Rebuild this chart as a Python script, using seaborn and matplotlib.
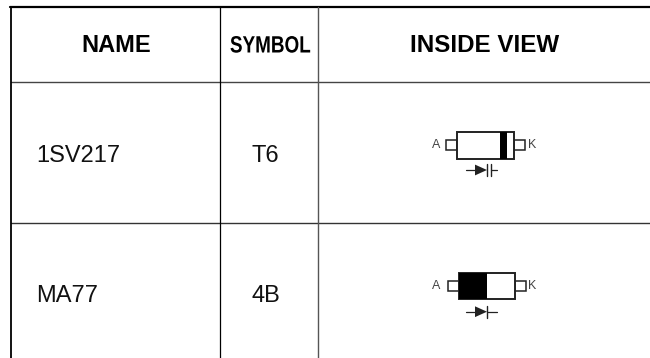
# redraw of the diode marking table
import matplotlib
matplotlib.use('Agg')
import matplotlib.pyplot as plt
from matplotlib.patches import Polygon, Rectangle
from matplotlib.patheffects import AbstractPathEffect
from matplotlib.transforms import Affine2D
import seaborn as sns

# table text
HEADERS = ['NAME', 'SYMBOL', 'INSIDE VIEW']
NAMES = ['1SV217', 'MA77']
SYMBOLS = ['T6', '4B']
TERMINALS = ['A', 'K']

sns.set_theme(style='white')
plt.rcParams['font.family'] = ['Liberation Sans', 'DejaVu Sans']


class Squeeze(AbstractPathEffect):
    '''
    Narrows a text around x_mid (display pixels), no condensed font here
    '''

    def __init__(self, x_mid, factor):
        super().__init__()
        self.x_mid = x_mid
        self.factor = factor

    def draw_path(self, renderer, gc, tpath, affine, rgbFace=None):
        squeeze = Affine2D().translate(-self.x_mid, 0).scale(
            self.factor, 1).translate(self.x_mid, 0)
        renderer.draw_path(gc, tpath, affine + squeeze, rgbFace)


def draw_rules(axis):
    '''
    Table rules, in pixel coordinates of the page
    '''
    axis.plot([10, 650], [7.3, 7.3], color='black', lw=1.6)
    axis.plot([11, 650], [82, 82], color='#444444', lw=1.0)
    axis.plot([11, 650], [222.7, 222.7], color='#333333', lw=1.0)
    axis.plot([11, 11], [7, 358], color='black', lw=1.3)
    axis.plot([219.5, 219.5], [7, 358], color='black', lw=0.9)
    axis.plot([318, 318], [7, 358], color='#555555', lw=1.0)


def draw_diode(axis, left, top, band, sym_x, sym_y, double_bar):
    '''
    Diode package with leads, terminal letters and circuit symbol
    '''
    edge = '#222222'
    body_w, body_h = 56.7, 26.5
    mid = top + body_h / 2
    axis.add_patch(Rectangle((left - 11, mid - 5.2), 11, 10.4, fc='white',
                             ec=edge, lw=1.1))
    axis.add_patch(Rectangle((left + body_w, mid - 5.2), 11, 10.4, fc='white',
                             ec=edge, lw=1.1))
    axis.add_patch(Rectangle((left, top), body_w, body_h, fc='white',
                             ec=edge, lw=1.4, zorder=3))
    axis.add_patch(Rectangle((left + band[0], top), band[1] - band[0],
                             body_h, fc='black', ec='none', zorder=4))
    axis.text(436.6, mid, TERMINALS[0], fontsize=9, color='#444444',
              ha='center', va='center')
    axis.text(532, mid, TERMINALS[1], fontsize=9, color='#444444',
              ha='center', va='center')

    axis.plot([sym_x - 9, sym_x], [sym_y, sym_y], color=edge, lw=0.9)
    axis.add_patch(Polygon([(sym_x, sym_y - 5.4), (sym_x, sym_y + 5.4),
                            (sym_x + 12, sym_y)], fc=edge, ec='none'))
    bar_x = sym_x + 12
    axis.plot([bar_x, bar_x], [sym_y - 6, sym_y + 6], color=edge, lw=1.0)
    if double_bar:
        axis.plot([bar_x + 4.4, bar_x + 4.4], [sym_y - 6, sym_y + 6],
                  color=edge, lw=1.0)
        axis.plot([bar_x + 4.4, bar_x + 10], [sym_y, sym_y], color=edge, lw=0.9)
    else:
        axis.plot([bar_x, bar_x + 10], [sym_y, sym_y], color=edge, lw=0.9)


if __name__ == '__main__':
    fig, ax = plt.subplots(figsize=(6.5, 3.58), dpi=100)
    fig.subplots_adjust(0, 0, 1, 1)
    ax.set_xlim(0, 650)
    ax.set_ylim(358, 0)
    ax.axis('off')

    draw_rules(ax)

    # header row
    ax.text(116, 46, HEADERS[0], fontsize=17, fontweight='bold',
            color='black', ha='center', va='center')
    ax.text(270.5, 46, HEADERS[1], fontsize=17, fontweight='bold',
            color='black', ha='center', va='center',
            path_effects=[Squeeze(270.5, 0.8)])
    ax.text(485, 46, HEADERS[2], fontsize=17.4, fontweight='bold',
            color='black', ha='center', va='center')

    # body rows
    row_y = [156.5, 295.6]
    for name, symbol, y_pos in zip(NAMES, SYMBOLS, row_y):
        ax.text(36, y_pos, name, fontsize=17, color='#111111', ha='left',
                va='center')
        ax.text(265.5, y_pos, symbol, fontsize=17, color='#111111',
                ha='center', va='center')

    draw_diode(ax, 457, 132, (43, 50), 475, 170, True)
    draw_diode(ax, 458.5, 272.7, (0, 28.5), 475, 311.7, False)

    fig.savefig('out.png', dpi=100)
